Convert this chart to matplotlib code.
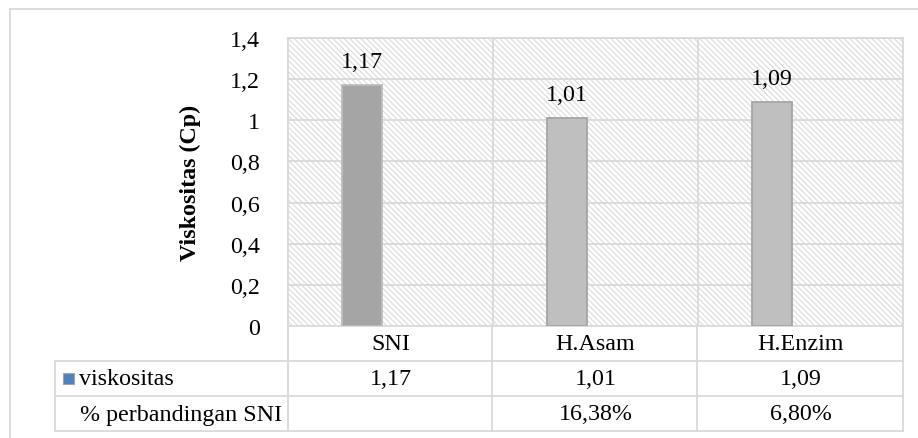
import matplotlib
matplotlib.use("Agg")
import matplotlib.pyplot as plt
from matplotlib.patches import Rectangle
from matplotlib.lines import Line2D
import matplotlib.transforms as mtransforms

categories = ["SNI", "H.Asam", "H.Enzim"]
viskositas = [1.17, 1.01, 1.09]
viskositas_labels = ["1,17", "1,01", "1,09"]
perbandingan_labels = ["", "16,38%", "6,80%"]
yticks = [0, 0.2, 0.4, 0.6, 0.8, 1.0, 1.2, 1.4]
ytick_labels = ["0", "0,2", "0,4", "0,6", "0,8", "1", "1,2", "1,4"]
row_names = ["viskositas", "% perbandingan SNI"]

W, H = 918, 439
plt.rcParams['font.family'] = ['Liberation Serif', 'DejaVu Serif']
plt.rcParams['hatch.linewidth'] = 0.8
FS = 17.3
GRID = "#d9d9d9"
HATCH = "#dadada"
plt.rcParams['hatch.color'] = HATCH

fig = plt.figure(figsize=(W / 100, H / 100), dpi=100)

def fx(px):
    return px / W

def fy(py):
    return 1 - py / H

L, R, T, B = 288, 903, 39, 327
ax = fig.add_axes([fx(L), fy(B), fx(R) - fx(L), fy(T) - fy(B)])
ax.set_xlim(-0.5, 2.5)
ax.set_ylim(0, 1.4)

# hatched background
ax.add_patch(Rectangle((0, 0), 1, 1, transform=ax.transAxes, facecolor="white",
                       edgecolor=HATCH, hatch="\\" * 6, linewidth=0, zorder=0))

for y in yticks[1:]:
    ax.axhline(y, color=GRID, lw=1.3, zorder=1)
for x in [0.5, 1.5]:
    ax.axvline(x, color=GRID, lw=1.3, zorder=1)

fills = ["#a5a5a5", "#bfbfbf", "#bfbfbf"]
edges = ["#bdbdbd", "#a5a5a5", "#a5a5a5"]
xs = [i - 0.14 for i in range(len(categories))]
ax.bar(xs, viskositas, width=0.195, color=fills, edgecolor=edges, linewidth=1.3, zorder=3)
for x, v, lab in zip(xs, viskositas, viskositas_labels):
    ax.annotate(lab, (x, v), xytext=(0, 17), textcoords="offset points",
                ha="center", va="center", fontsize=FS, zorder=4)

ax.set_yticks(yticks)
ax.set_yticklabels(ytick_labels, fontsize=FS)
ax.tick_params(axis="y", length=0, pad=20)
ax.set_xticks([])
for s in ax.spines.values():
    s.set_color(GRID)
    s.set_linewidth(1.3)

fig.text(fx(190), fy((T + B) / 2), "Viskositas (Cp)", rotation=90, ha="center",
         va="center", fontsize=FS, fontweight="bold")

# data table
def hline(y, x0, x1):
    fig.add_artist(Line2D([fx(x0), fx(x1)], [fy(y), fy(y)], color=GRID, lw=1.3,
                          transform=fig.transFigure))

def vline(x, y0, y1):
    fig.add_artist(Line2D([fx(x), fx(x)], [fy(y0), fy(y1)], color=GRID, lw=1.3,
                          transform=fig.transFigure))

TL = 55
hline(362, TL, R)
hline(397, TL, R)
hline(432, TL, R)
vline(TL, 362, 432)
vline(L, 327, 432)
vline(492, 327, 432)
vline(697, 327, 432)
vline(R, 327, 432)

trans = mtransforms.blended_transform_factory(ax.transData, fig.transFigure)
for i, c in enumerate(categories):
    fig.text(i, fy(345), c, transform=trans, ha="center", va="center", fontsize=FS)
    fig.text(i, fy(380), viskositas_labels[i], transform=trans, ha="center", va="center", fontsize=FS)
    fig.text(i, fy(415), perbandingan_labels[i], transform=trans, ha="center", va="center", fontsize=FS)

fig.add_artist(Rectangle((fx(63), fy(385)), fx(74) - fx(63), fy(374) - fy(385),
                         transform=fig.transFigure, facecolor="#4f81bd",
                         edgecolor="#a5a5a5", lw=0.8))
fig.text(fx(79), fy(380), row_names[0], ha="left", va="center", fontsize=FS)
fig.text(fx(80), fy(415), row_names[1], ha="left", va="center", fontsize=FS)

# outer chart border
hline(10, 10, W)
vline(10, 10, H)

fig.savefig("out.png", dpi=100)
